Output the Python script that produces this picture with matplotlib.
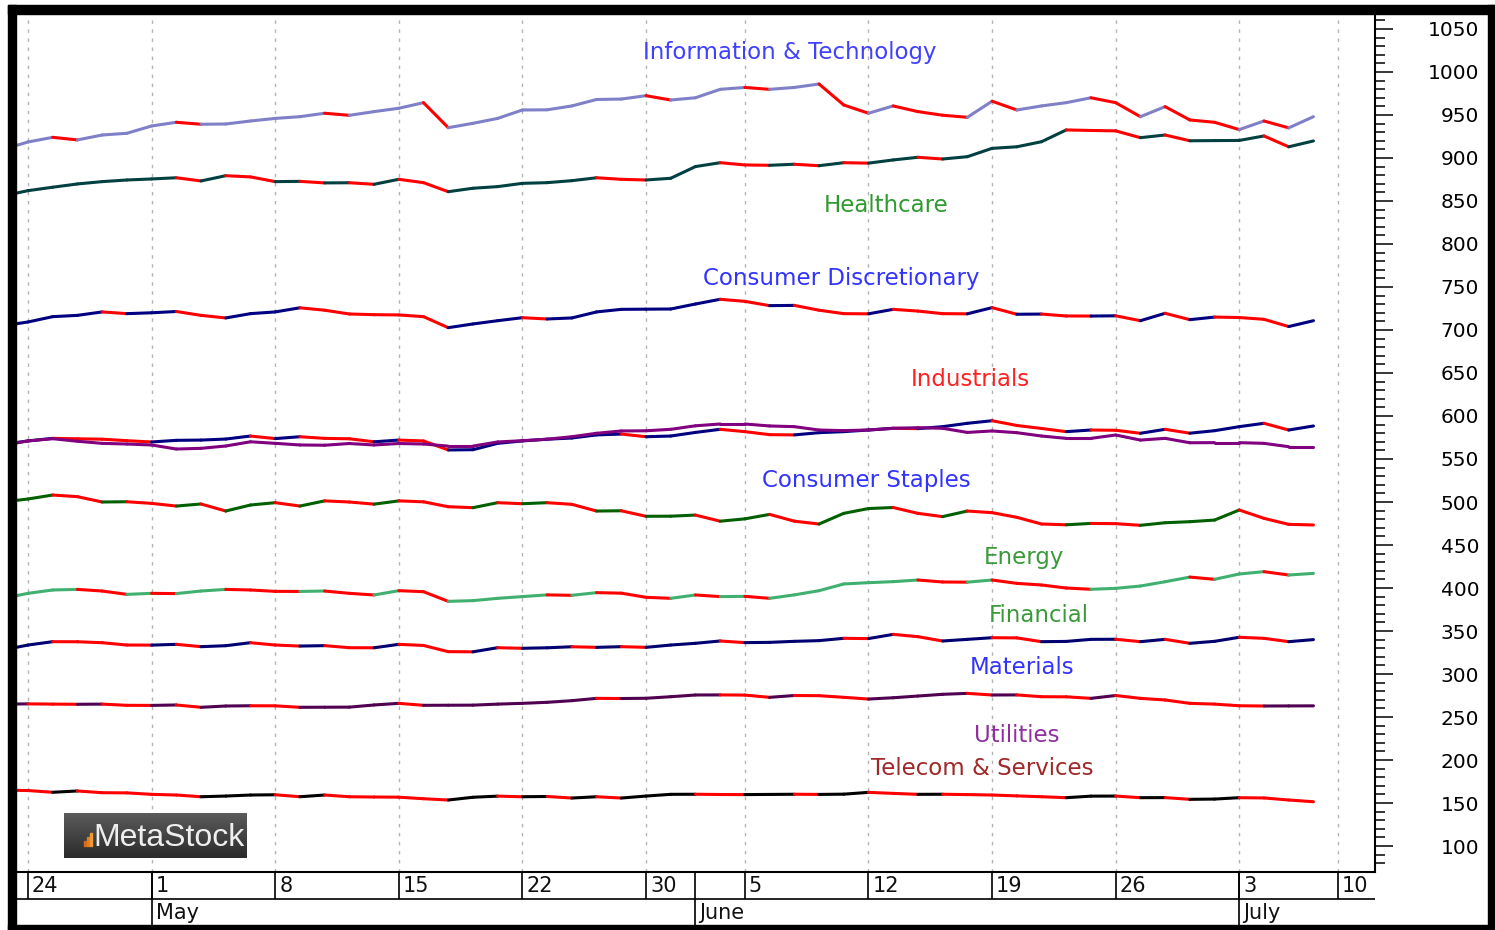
import matplotlib
matplotlib.use("Agg")
import numpy as np
import matplotlib.pyplot as plt
from matplotlib.collections import LineCollection
from matplotlib.patches import Rectangle
from matplotlib.ticker import MultipleLocator, FixedLocator

W, H = 1495, 930

# trading days 21 Apr .. 7 Jul 2017, index 0..53
day_ticks = [1, 6, 11, 16, 21, 26, 30, 35, 40, 45, 50, 54]
day_labels = ["24", "1", "8", "15", "22", "30", "5", "12", "19", "26", "3", "10"]
month_ticks = [6, 28, 50]
month_labels = ["May", "June", "July"]

info_tech = [910, 918.6, 924, 921, 926.7, 928.7, 937.2, 941.5, 939.2, 939.5,
             943, 946, 948, 952, 949.6, 953.9, 957.8, 964.3, 935.2, 940.3,
             946, 955.8, 956, 960.5, 968, 968.5, 972.4, 967.4, 970, 979.8,
             982, 979.8, 982, 986, 961.6, 952, 960.5, 953.9, 949.7, 947.3,
             966, 955.8, 960.5, 964.3, 970, 964.3, 948, 959.7, 944.2, 941.5,
             933, 943, 935, 948]
healthcare = [856, 862, 866, 869.8, 872.5, 874.4, 875.6, 877, 873.3, 879.4,
              878, 872.5, 872.8, 871, 871.2, 869.4, 875.2, 871.3, 860.8, 864.8,
              866.7, 870.5, 871.3, 873.6, 877, 875.2, 874.4, 876.4, 890, 894.5,
              891.9, 891.5, 892.7, 891, 894.5, 894, 897.7, 900.8, 898.8, 901.5,
              911.2, 913, 918.9, 932.6, 932, 931.5, 923.6, 926.7, 920, 920.2,
              920.4, 925.6, 913, 919.8]
cons_disc = [705, 709.3, 715.5, 717, 721, 719, 720, 721.5, 717, 714,
             719, 721, 725.8, 723, 718.6, 717.8, 717.5, 715.5, 702.7, 707,
             710.8, 714.3, 712.8, 714, 721, 724, 724.2, 724.4, 730.2, 735.7,
             733.3, 728.3, 728.6, 723, 719, 718.8, 724, 722, 719, 718.8,
             726, 718.3, 718.5, 716.3, 716.2, 716.5, 710.8, 719.4, 712, 715,
             714.5, 712.4, 704, 710.8]
industrials = [567, 571, 574, 573.5, 573, 571.3, 569.8, 571.7, 572, 573.2,
               576.7, 573.7, 575.9, 574, 573.5, 570, 572, 571, 560.5, 560.8,
               568.2, 571, 573, 574.4, 578, 579, 575.9, 576.7, 580.9, 584.5,
               581.8, 578.3, 578, 580.6, 581.8, 583.7, 585.7, 585.3, 587.6, 591.5,
               594.5, 589, 585.5, 581.8, 583.7, 583.4, 579.9, 584.5, 580, 582.9,
               587.6, 591.5, 583.7, 588.4]
cons_staples = [566, 571, 573.6, 570.6, 568.2, 567.4, 566.3, 561.6, 562.4, 565.1,
                570, 568.2, 566.3, 566, 568, 566.3, 568, 567.4, 565, 565,
                569.8, 571.3, 573, 575.9, 579.9, 582.6, 582.8, 584.5, 588.6, 590.7,
                590.7, 588.4, 587.6, 583.7, 583, 583.7, 585.7, 586.4, 585.7, 580.9,
                582.6, 580.6, 576.7, 574, 574, 577.9, 572, 574, 568.9, 569,
                569, 568.2, 564.3, 564.3]
energy = [500, 503.5, 508.1, 506.2, 500, 500.3, 498.4, 495.3, 497.7, 489.5,
          496.5, 499.2, 495.3, 501.3, 500, 497.5, 501.3, 500.2, 494.5, 493.4,
          499.2, 498, 499.2, 497.3, 489.5, 489.8, 483.4, 483.5, 484.8, 477.7,
          480.4, 485.6, 477.7, 474.4, 486.8, 492.4, 493.6, 486.8, 483, 489.5,
          487.6, 482.2, 474.4, 473.5, 475.1, 474.8, 472.9, 475.9, 477.1, 479,
          490.7, 481, 474, 473.3]
financial = [388, 393.8, 397.7, 398.4, 396.5, 392.6, 393.8, 393.5, 396.5, 398.4,
             397.7, 396.1, 396, 396.5, 393.8, 391.9, 396.9, 395.7, 384.5, 385.3,
             388, 390, 392, 391.5, 394.6, 394, 389.2, 388, 391.9, 390,
             390.3, 388, 392, 396.9, 404.7, 406.2, 407.4, 409.3, 407, 406.8,
             409.3, 405.4, 403.5, 400, 398.5, 399.6, 402.3, 407.3, 412.7, 410.1,
             416.3, 419, 415.1, 417]
materials = [328, 333.7, 337.6, 337.5, 336.4, 333.7, 333.6, 334.5, 331.8, 332.9,
             336.4, 333.7, 332.5, 333, 330.6, 330.5, 334.5, 333.2, 326, 325.8,
             330.6, 329.9, 330.5, 331.7, 331, 331.8, 331, 333.7, 335.7, 338.4,
             336.5, 336.8, 338, 338.8, 341.5, 341.2, 346.1, 343.4, 338.4, 340.3,
             342.2, 342, 337.6, 337.9, 340.3, 340.4, 337.6, 340.3, 335.7, 338,
             342.7, 341.5, 337.6, 340]
utilities = [265, 265.3, 265, 264.8, 265, 263.6, 263.5, 264, 261.3, 262.8,
             263.1, 263, 261.3, 261.4, 261.5, 264, 265.9, 263.6, 263.7, 263.8,
             265, 265.9, 267.1, 269, 271.7, 271.5, 271.8, 273.6, 275.6, 275.7,
             275.5, 272.9, 275, 274.8, 272.9, 270.9, 272.4, 274.4, 276.4, 277.5,
             275.6, 275.7, 273.6, 273.5, 271.7, 275, 271.7, 269.8, 265.9, 265,
             263.1, 262.8, 262.9, 263]
telecom = [165, 164.5, 162.5, 164, 162, 161.8, 160.1, 159.3, 157.3, 158.1,
           159.3, 159.6, 157.3, 159.3, 157.3, 157, 156.8, 155, 153.5, 156.7,
           158, 157.3, 157.6, 155.8, 157.3, 155.8, 158.1, 160.1, 160.2, 159.9,
           159.8, 160, 160.2, 160, 160.3, 162.4, 161.2, 160.1, 160.2, 159.8,
           159.3, 158.3, 157.3, 156.2, 158, 158.1, 156.2, 156.3, 154.3, 154.6,
           156.2, 155.9, 153.5, 151.5]

# (values, up colour, down colour)
series = [
    (info_tech, "#8080C8", "#FF0000"),
    (healthcare, "#004040", "#FF0000"),
    (cons_disc, "#000080", "#FF0000"),
    (industrials, "#000080", "#FF0000"),
    (cons_staples, "#800080", "#800080"),
    (energy, "#006000", "#FF0000"),
    (financial, "#40B070", "#FF0000"),
    (materials, "#000070", "#FF0000"),
    (utilities, "#500050", "#FF0000"),
    (telecom, "#000000", "#FF0000"),
]

# label text, x (day index), y (value), colour
labels = [
    ("Information & Technology", 31.8, 1023, "#4040FF"),
    ("Healthcare", 35.7, 845, "#2F9A2F"),
    ("Consumer Discretionary", 33.9, 760, "#3333FF"),
    ("Industrials", 39.1, 643, "#FF2020"),
    ("Consumer Staples", 34.9, 525, "#3333FF"),
    ("Energy", 41.3, 435, "#3A9A3A"),
    ("Financial", 41.9, 368.5, "#3A9A3A"),
    ("Materials", 41.2, 308, "#3333FF"),
    ("Utilities", 41.0, 229, "#9030A0"),
    ("Telecom & Services", 39.6, 190.5, "#A02828"),
]

fig = plt.figure(figsize=(W / 100, H / 100), dpi=100)
fig.patch.set_facecolor("white")

ax = fig.add_axes([16 / W, 1 - 872 / H, 1359 / W, 858 / H])
ax.set_xlim(0.515, 55.49)
ax.set_ylim(69.8, 1067.4)

for t in day_ticks:
    ax.axvline(t, color="#B4B4B4", lw=1.0, dashes=(2.5, 4), zorder=1)

for vals, up, down in series:
    v = np.array(vals)
    x = np.arange(len(v))
    pts = np.column_stack([x, v])
    segs = np.stack([pts[:-1], pts[1:]], axis=1)
    cols = [down if v[i + 1] < v[i] else up for i in range(len(v) - 1)]
    lc = LineCollection(segs, colors=cols, linewidths=2.2, capstyle="round", zorder=3)
    ax.add_collection(lc)

for text, lx, ly, c in labels:
    ax.text(lx, ly, text, color=c, fontsize=16.5, ha="center", va="center")

ax.spines["top"].set_visible(False)
ax.spines["left"].set_visible(False)
ax.spines["right"].set_linewidth(1.5)
ax.spines["bottom"].set_linewidth(1.5)
ax.set_xticks([])
ax.yaxis.tick_right()
ax.yaxis.set_major_locator(MultipleLocator(50))
ax.yaxis.set_minor_locator(FixedLocator(np.arange(80, 1061, 10)))
ax.tick_params(axis="y", which="major", length=13, width=1.1, pad=62, labelsize=14.5)
ax.tick_params(axis="y", which="minor", length=7, width=1.1)
plt.setp(ax.get_yticklabels(), ha="right")

# date strip
axd = fig.add_axes([16 / W, 5 / H, 1359 / W, 53 / H])
axd.set_xlim(0.515, 55.49)
axd.set_ylim(0, 53)
axd.axis("off")
axd.axhline(26, color="black", lw=1.2)
axd.vlines(day_ticks, 26, 53, color="black", lw=1.2)
axd.vlines(month_ticks, 0, 53, color="black", lw=1.2)
for t, s in zip(day_ticks, day_labels):
    axd.text(t + 0.16, 39, s, fontsize=15, ha="left", va="center", color="#111111")
for t, s in zip(month_ticks, month_labels):
    axd.text(t + 0.16, 12, s, fontsize=15, ha="left", va="center", color="#111111")

# MetaStock badge
axl = fig.add_axes([64 / W, 1 - 858 / H, 183 / W, 45 / H])
grad = np.linspace(0.36, 0.17, 50).reshape(-1, 1)
axl.imshow(grad, cmap="gray", vmin=0, vmax=1, aspect="auto", extent=[0, 183, 0, 45])
axl.set_xlim(0, 183)
axl.set_ylim(0, 45)
axl.axis("off")
for bx, bh, bc in [(20, 5, "#D86A18"), (23, 9, "#E47E22"), (26, 13, "#EE9A36")]:
    axl.add_patch(Rectangle((bx, 12), 2, bh, color=bc))
axl.text(29, 12, "MetaStock", color="#EEEEEE", fontsize=23, family="Liberation Sans",
         ha="left", va="baseline")

# black frame
for x0, y0, x1, y1 in [(8, 5, 16, 930), (8, 5, 1495, 14), (1488, 5, 1495, 930), (8, 925, 1495, 930)]:
    fig.add_artist(Rectangle((x0 / W, 1 - y1 / H), (x1 - x0) / W, (y1 - y0) / H,
                             transform=fig.transFigure, color="black", zorder=10))

fig.savefig("out.png", dpi=100)
